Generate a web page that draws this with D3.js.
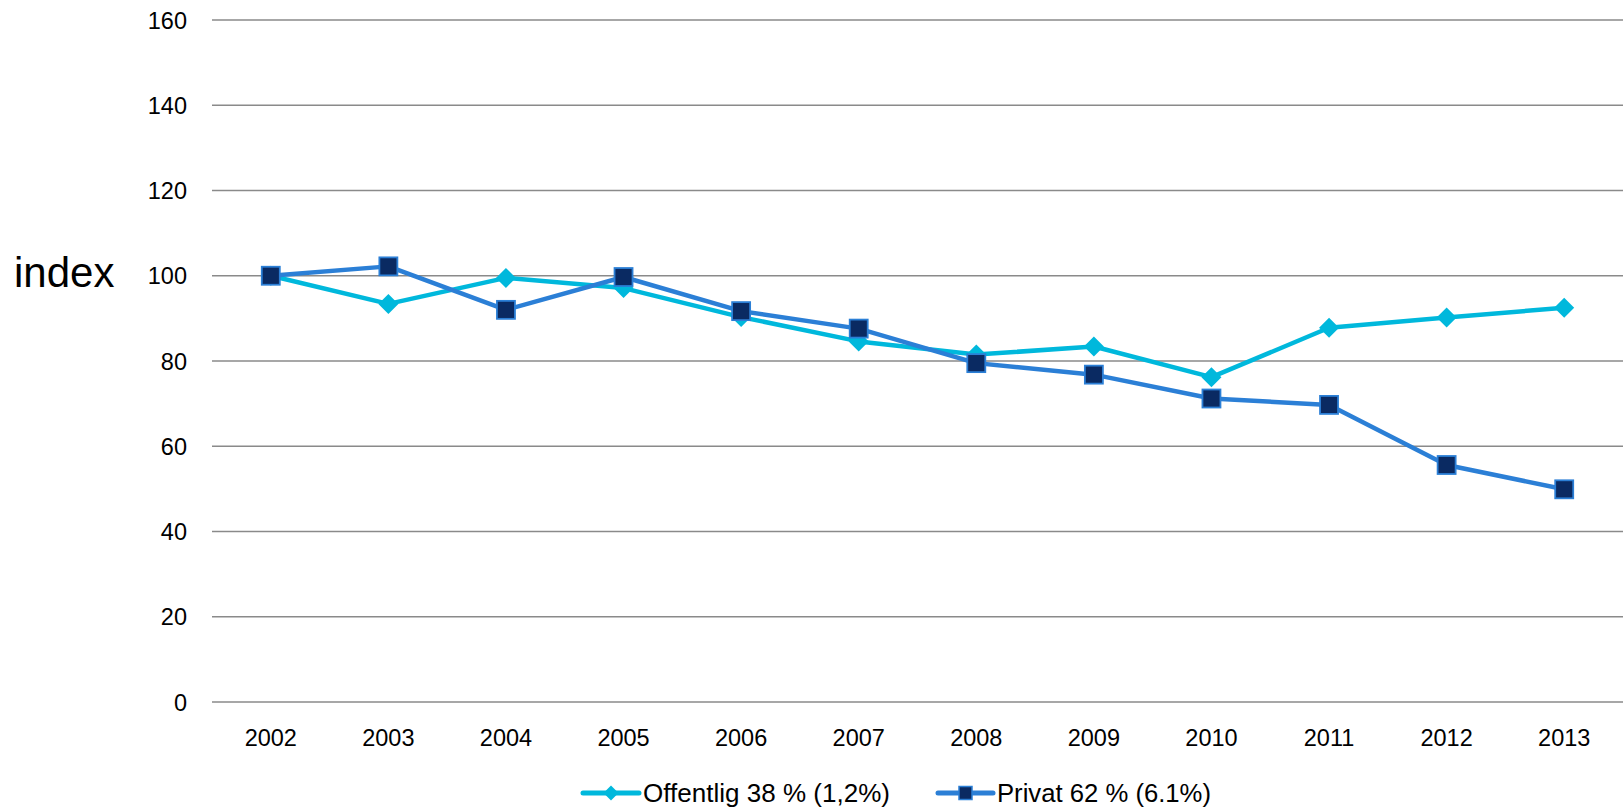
<!DOCTYPE html>
<html>
<head>
<meta charset="utf-8">
<script src="https://cdn.jsdelivr.net/npm/d3@7"></script>
<style>
  html, body { margin: 0; padding: 0; background: #fff; }
  svg { display: block; }
  text { font-family: "Liberation Sans", Arial, sans-serif; fill: #000; }
</style>
</head>
<body>
<svg id="chart" width="1623" height="809"></svg>
<script>
const years = ["2002","2003","2004","2005","2006","2007","2008","2009","2010","2011","2012","2013"];
const offentlig = [100, 93.4, 99.5, 97.1, 90.3, 84.6, 81.5, 83.4, 76.2, 87.8, 90.2, 92.5];
const privat = [100, 102.2, 92.0, 99.7, 91.7, 87.6, 79.5, 76.8, 71.2, 69.7, 55.6, 49.9];
const yTicks = [0, 20, 40, 60, 80, 100, 120, 140, 160];
const seriesNames = ["Offentlig 38 % (1,2%)", "Privat 62 % (6.1%)"];
const yTitle = "index";

(function () {
const svg = d3.select("#chart");
const pLeft = 212, pRight = 1623, pTop = 20, pBottom = 702;

const x = d3.scaleBand().domain(years).range([pLeft, pRight]).padding(0);
const y = d3.scaleLinear().domain([0, 160]).range([pBottom, pTop]);
const cx = d => x(d) + x.bandwidth() / 2;

// gridlines
svg.append("g").selectAll("line").data(yTicks).join("line")
  .attr("x1", pLeft).attr("x2", pRight)
  .attr("y1", d => y(d)).attr("y2", d => y(d))
  .attr("stroke", "#8a8a8a").attr("stroke-width", 1.6);

// y axis labels
const yAxis = d3.axisLeft(y).tickValues(yTicks).tickSize(0).tickPadding(0);
const gy = svg.append("g").attr("transform", `translate(187,0)`).call(yAxis);
gy.select(".domain").remove();
gy.selectAll("text").attr("font-size", 23.5).attr("dy", "0.35em")
  .style("font-family", '"Liberation Sans", Arial, sans-serif').attr("fill", "#000");

// x axis labels
const xAxis = d3.axisBottom(x).tickSize(0).tickPadding(0);
const gx = svg.append("g").attr("transform", `translate(0,${pBottom})`).call(xAxis);
gx.select(".domain").remove();
gx.selectAll("text").attr("font-size", 23.5).attr("y", 44).attr("dy", 0)
  .style("font-family", '"Liberation Sans", Arial, sans-serif').attr("fill", "#000");

// y title
svg.append("text").attr("x", 14).attr("y", 287).attr("font-size", 42).text(yTitle);

const cOff = "#00b8dc", cPriv = "#2b7fd6", cPrivFill = "#0a2a62";
const line = d3.line().x((d, i) => cx(years[i])).y(d => y(d));

// Offentlig
svg.append("path").datum(offentlig).attr("d", line)
  .attr("fill", "none").attr("stroke", cOff).attr("stroke-width", 4.5).attr("stroke-linejoin", "round");
const dsz = 10;
svg.append("g").selectAll("path").data(offentlig).join("path")
  .attr("d", (d, i) => { const px = cx(years[i]), py = y(d);
    return `M${px},${py - dsz}L${px + dsz},${py}L${px},${py + dsz}L${px - dsz},${py}Z`; })
  .attr("fill", cOff);

// Privat
svg.append("path").datum(privat).attr("d", line)
  .attr("fill", "none").attr("stroke", cPriv).attr("stroke-width", 4.5).attr("stroke-linejoin", "round");
const ssz = 18;
svg.append("g").selectAll("rect").data(privat).join("rect")
  .attr("x", (d, i) => cx(years[i]) - ssz / 2).attr("y", d => y(d) - ssz / 2)
  .attr("width", ssz).attr("height", ssz)
  .attr("fill", cPrivFill).attr("stroke", cPriv).attr("stroke-width", 1.8);

// legend
const lg = svg.append("g");
const ly = 793;
lg.append("line").attr("x1", 583).attr("x2", 639).attr("y1", ly).attr("y2", ly)
  .attr("stroke", cOff).attr("stroke-width", 5).attr("stroke-linecap", "round");
const ld = 7.5, lcx1 = 611;
lg.append("path").attr("d", `M${lcx1},${ly - ld}L${lcx1 + ld},${ly}L${lcx1},${ly + ld}L${lcx1 - ld},${ly}Z`).attr("fill", cOff);
lg.append("text").attr("x", 643).attr("y", 802).attr("font-size", 26)
  .attr("textLength", 247).attr("lengthAdjust", "spacingAndGlyphs").text(seriesNames[0]);
lg.append("line").attr("x1", 938).attr("x2", 993).attr("y1", ly).attr("y2", ly)
  .attr("stroke", cPriv).attr("stroke-width", 5).attr("stroke-linecap", "round");
const ls = 13, lcx2 = 965.5;
lg.append("rect").attr("x", lcx2 - ls / 2).attr("y", ly - ls / 2).attr("width", ls).attr("height", ls)
  .attr("fill", cPrivFill).attr("stroke", cPriv).attr("stroke-width", 1.5);
lg.append("text").attr("x", 997).attr("y", 802).attr("font-size", 26)
  .attr("textLength", 214).attr("lengthAdjust", "spacingAndGlyphs").text(seriesNames[1]);
})();
</script>
</body>
</html>
